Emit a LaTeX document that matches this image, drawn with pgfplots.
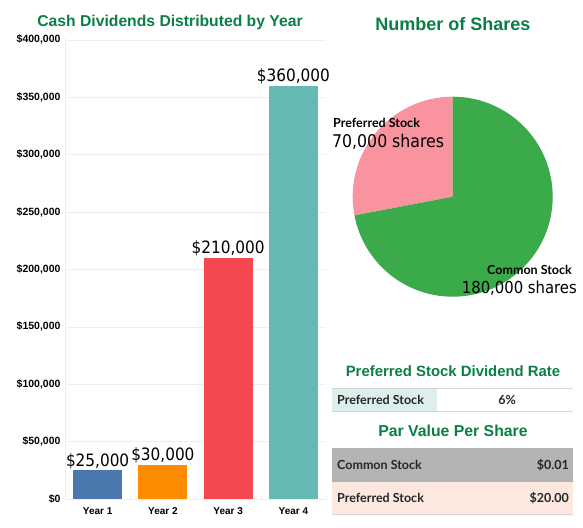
\documentclass[border=0pt]{standalone}
\usepackage{pgfplots}
\pgfplotsset{compat=1.18}
\usepackage{fontspec}
\setmainfont{Liberation Sans}
\newfontfamily\hand{DejaVu Sans Condensed}
\newfontfamily\lato{Lato}
\definecolor{titlegreen}{HTML}{0A7E45}
\definecolor{cA}{HTML}{4A77AD}
\definecolor{cB}{HTML}{FF8C00}
\definecolor{cC}{HTML}{F4474F}
\definecolor{cD}{HTML}{64BAB3}
\definecolor{piepink}{HTML}{F9939F}
\definecolor{piegreen}{HTML}{3BAA4B}
\definecolor{tealcell}{HTML}{DDEFEC}
\definecolor{greyrow}{HTML}{B4B4B4}
\definecolor{peachrow}{HTML}{FCE8DE}
\definecolor{gridc}{HTML}{EEEEEE}
\definecolor{txt}{HTML}{262626}
\definecolor{rule}{HTML}{D6D6D6}
\begin{document}
\begin{tikzpicture}
\path[use as bounding box] (0pt,0pt) rectangle (583pt,527pt);
% ---------- bar chart ----------
\begin{axis}[
  at={(65pt,28pt)}, anchor=south west, scale only axis,
  width=261pt, height=461pt,
  xmin=-0.5, xmax=3.5, ymin=0, ymax=401500,
  axis x line*=bottom, axis y line*=left,
  axis line style={draw=gridc},
  xtick={0,1,2,3}, xticklabels={Year 1,Year 2,Year 3,Year 4},
  minor xtick={-0.5,0.5,1.5,2.5,3.5},
  minor tick length=4pt, minor tick style={draw=gridc},
  major tick length=0pt,
  ytick={0,50000,100000,150000,200000,250000,300000,350000,400000},
  yticklabels={{\$0},{\$50,000},{\$100,000},{\$150,000},{\$200,000},{\$250,000},{\$300,000},{\$350,000},{\$400,000}},
  scaled y ticks=false,
  ymajorgrids, grid style={draw=gridc},
  y tick label style={font=\bfseries\fontsize{10.5}{11}\selectfont, xshift=-1pt},
  x tick label style={font=\bfseries\fontsize{10}{11}\selectfont, yshift=-5pt},
  nodes near coords style={font=\hand\fontsize{17}{17}\selectfont, anchor=south, inner sep=1.5pt, text=black},
  clip=false,
]
\addplot[ybar, bar width=49pt, fill=cA, draw=none, nodes near coords={\$25,000}] coordinates {(0,25000)};
\addplot[ybar, bar width=49pt, fill=cB, draw=none, nodes near coords={\$30,000}] coordinates {(1,30000)};
\addplot[ybar, bar width=49pt, fill=cC, draw=none, nodes near coords={\$210,000}] coordinates {(2,210000)};
\addplot[ybar, bar width=49pt, fill=cD, draw=none, nodes near coords={\$360,000}] coordinates {(3,360000)};
\end{axis}
% ---------- pie chart ----------
% shares in thousands: preferred 70, common 180
\pgfmathsetmacro{\pref}{70}
\pgfmathsetmacro{\comm}{180}
\pgfmathsetmacro{\pa}{360*(\pref/(\pref+\comm))}
\begin{axis}[
  at={(452.7pt,330.3pt)}, anchor=center, scale only axis,
  width=200pt, height=200pt,
  xmin=-1, xmax=1, ymin=-1, ymax=1, hide axis, clip=false,
]
\fill[piepink] (axis cs:0,0) -- (axis cs:0,1) arc[start angle=90, end angle={90+\pa}, radius=100pt] -- cycle;
\fill[piegreen] (axis cs:0,0) -- (axis cs:0,1) arc[start angle=90, end angle={90+\pa-360}, radius=100pt] -- cycle;
\end{axis}
\begin{scope}[x=1pt,y=1pt]
\node[font=\bfseries\fontsize{15.7}{16}\selectfont, text=titlegreen] at (170,505) {Cash Dividends Distributed by Year};
\node[font=\bfseries\fontsize{18}{19}\selectfont, text=titlegreen] at (453,503) {Number of Shares};
\node[anchor=west, inner sep=0pt, font=\lato\bfseries\fontsize{12.5}{13}\selectfont] at (333,404) {Preferred Stock};
\node[anchor=west, inner sep=0pt, font=\hand\fontsize{17.5}{18}\selectfont] at (332,385) {70,000 shares};
\node[anchor=east, inner sep=0pt, font=\lato\bfseries\fontsize{12.5}{13}\selectfont] at (572,257) {Common Stock};
\node[anchor=east, inner sep=0pt, font=\hand\fontsize{16.5}{17}\selectfont] at (577,239) {180,000 shares};
% ---------- tables ----------
\node[font=\bfseries\fontsize{14.9}{15}\selectfont, text=titlegreen] at (453,156) {Preferred Stock Dividend Rate};
\fill[tealcell] (332,116) rectangle (437,139);
\draw[rule, line width=0.8pt] (332,139) -- (573,139);
\draw[rule, line width=0.8pt] (332,116) -- (573,116);
\node[anchor=west, inner sep=0pt, text=txt, font=\lato\bfseries\fontsize{12.5}{13}\selectfont] at (337,127.5) {Preferred Stock};
\node[inner sep=0pt, text=txt, font=\lato\bfseries\fontsize{12.5}{13}\selectfont] at (507,127.5) {6\%};
\node[font=\bfseries\fontsize{15.8}{16}\selectfont, text=titlegreen] at (453,96) {Par Value Per Share};
\fill[greyrow] (332,45) rectangle (573,79);
\fill[peachrow] (332,13) rectangle (573,45);
\draw[rule, line width=0.8pt] (332,13) -- (573,13);
\node[anchor=west, inner sep=0pt, text=txt, font=\lato\bfseries\fontsize{12.5}{13}\selectfont] at (337,62) {Common Stock};
\node[anchor=east, inner sep=0pt, text=txt, font=\lato\bfseries\fontsize{12.5}{13}\selectfont] at (569,62) {\$0.01};
\node[anchor=west, inner sep=0pt, text=txt, font=\lato\bfseries\fontsize{12.5}{13}\selectfont] at (337,29) {Preferred Stock};
\node[anchor=east, inner sep=0pt, text=txt, font=\lato\bfseries\fontsize{12.5}{13}\selectfont] at (569,29) {\$20.00};
\end{scope}
\end{tikzpicture}
\end{document}
